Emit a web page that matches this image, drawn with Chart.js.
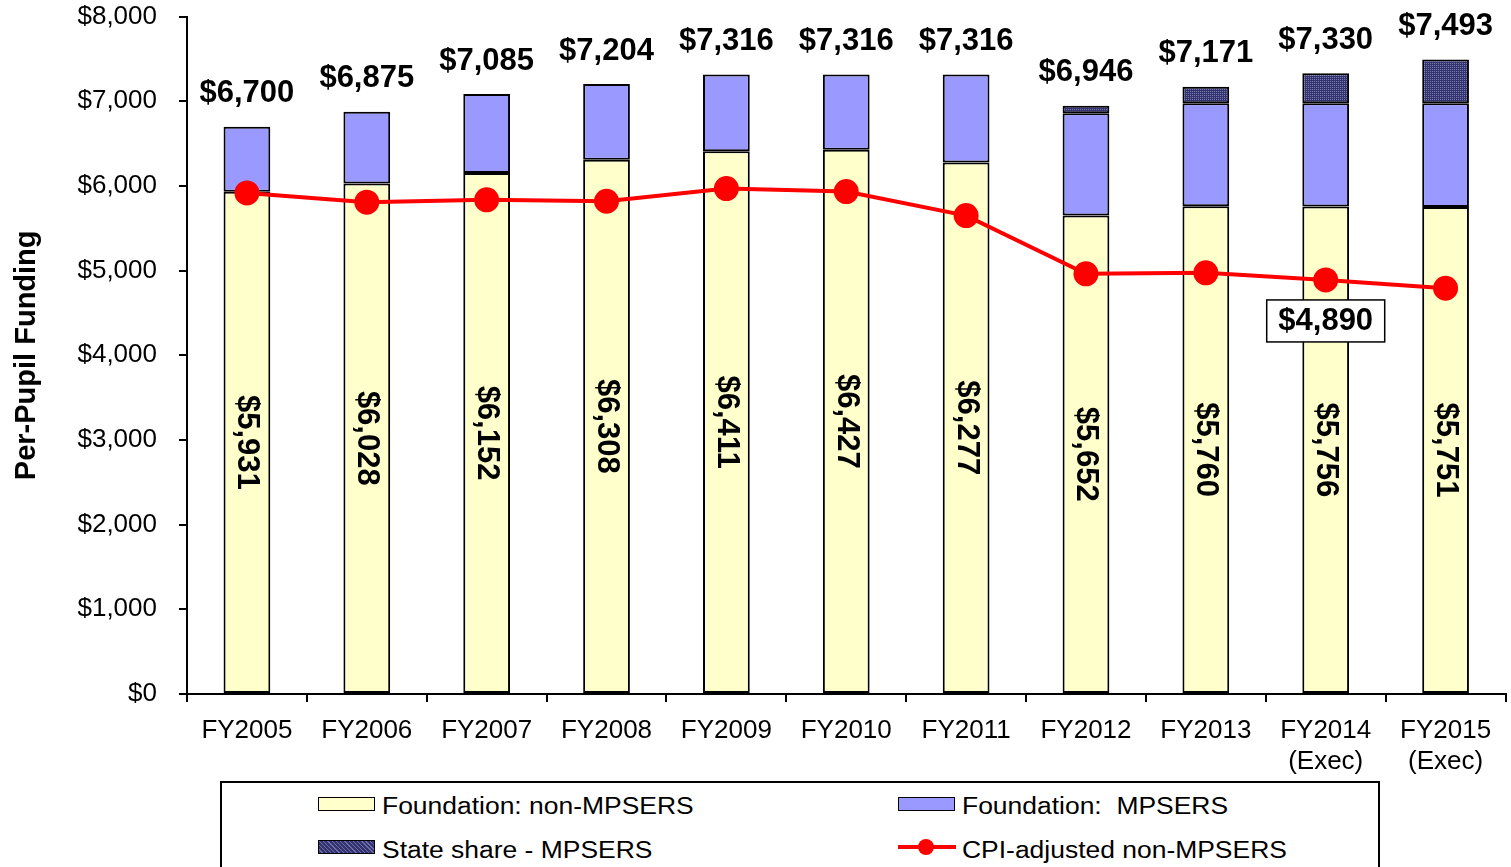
<!DOCTYPE html>
<html>
<head>
<meta charset="utf-8">
<script src="https://cdn.jsdelivr.net/npm/chart.js@4.4.1/dist/chart.umd.min.js"></script>
<style>
  body { margin: 0; background: #fff; font-family: 'Liberation Sans', Arial, sans-serif; }
  #contenedor { position: relative; width: 1511px; height: 867px; overflow: hidden; }
  #lienzo { position: absolute; left: 0; top: -21px; width: 1520px; height: 888px; }
  #leyenda { position: absolute; left: 220px; top: 781px; width: 1156px; height: 84px;
             border: 2px solid #000; background: #fff; }
  .item { position: absolute; font-size: 23px; color: #000; line-height: 23px; white-space: nowrap;
          transform: scaleX(1.15); transform-origin: left center; }
  .caja { position: absolute; width: 55px; height: 12px; border: 1.5px solid #000; }
</style>
</head>
<body>
<div id="contenedor">
  <div id="lienzo"><canvas id="grafica"></canvas></div>
  <div id="leyenda">
    <div class="caja" style="left:96px; top:14px; background:#FFFFCC;"></div>
    <div class="item" style="left:160px; top:12px;">Foundation: non-MPSERS</div>
    <div class="caja" style="left:676px; top:14px; background:#9999FF;"></div>
    <div class="item" style="left:740px; top:12px;">Foundation:&nbsp; MPSERS</div>
    <div class="caja" id="cajaEstatal" style="left:96px; top:57px;"></div>
    <div class="item" style="left:160px; top:56px;">State share - MPSERS</div>
    <div style="position:absolute; left:676px; top:62px; width:58px; height:4px; background:#FF0000;"></div>
    <div style="position:absolute; left:696px; top:56px; width:16px; height:16px; border-radius:50%; background:#FF0000;"></div>
    <div class="item" style="left:740px; top:56px;">CPI-adjusted non-MPSERS</div>
  </div>
</div>
<script>
// Datos
const categorias = [['FY2005'], ['FY2006'], ['FY2007'], ['FY2008'], ['FY2009'], ['FY2010'],
  ['FY2011'], ['FY2012'], ['FY2013'], ['FY2014', '(Exec)'], ['FY2015', '(Exec)']];
const noMpsers = [5931, 6028, 6152, 6308, 6411, 6427, 6277, 5652, 5760, 5756, 5751];
const mpsers = [769, 847, 933, 896, 905, 889, 1039, 1206, 1216, 1220, 1225];
const estatalMpsers = [null, null, null, null, null, null, null, 88, 195, 354, 517];
const totales = [6700, 6875, 7085, 7204, 7316, 7316, 7316, 6946, 7171, 7330, 7493];
const cpiAjustado = [5918, 5808, 5836, 5819, 5969, 5934, 5650, 4962, 4974, 4890, 4792];
const ticksY = [0, 1000, 2000, 3000, 4000, 5000, 6000, 7000, 8000];
const etiquetaCpi = 9; // indice del punto con recuadro ($4,890)

const fuente = "'Liberation Sans', Arial, sans-serif";

function dinero(n) {
  return '$' + n.toLocaleString('en-US');
}

// trama oscura para "State share"
function crearTrama() {
  const c = document.createElement('canvas');
  c.width = 4; c.height = 4;
  const g = c.getContext('2d');
  g.fillStyle = '#333370';
  g.fillRect(0, 0, 4, 4);
  g.fillStyle = '#7a7ab0';
  g.fillRect(0, 0, 1, 1);
  g.fillRect(2, 2, 1, 1);
  g.fillRect(2, 0, 1, 1);
  g.fillRect(0, 2, 1, 1);
  return g.createPattern(c, 'repeat');
}
const trama = crearTrama();
document.getElementById('cajaEstatal').style.background =
  'repeating-linear-gradient(45deg, #333370 0 2px, #6c6ca8 2px 3px)';

// etiquetas de valores
const etiquetas = {
  id: 'etiquetas',
  afterDatasetsDraw(chart) {
    const ctx = chart.ctx;
    const y = chart.scales.y;
    const barras = chart.getDatasetMeta(0).data;
    ctx.save();
    ctx.fillStyle = '#000';
    ctx.textAlign = 'center';
    ctx.textBaseline = 'middle';
    ctx.font = 'bold 31px ' + fuente;
    barras.forEach((bar, i) => {
      // total arriba de la barra
      ctx.fillText(dinero(totales[i]), bar.x, y.getPixelForValue(totales[i]) - 33);
      // valor rotado dentro de la parte amarilla
      const medio = (bar.y + bar.base) / 2;
      ctx.save();
      ctx.translate(bar.x, medio);
      ctx.rotate(Math.PI / 2);
      ctx.fillText(dinero(noMpsers[i]), 0, 0);
      ctx.restore();
    });
    // recuadro del punto CPI
    const punto = chart.getDatasetMeta(3).data[etiquetaCpi];
    const cx = punto.x;
    const cy = punto.y + 41;
    ctx.fillStyle = '#fff';
    ctx.fillRect(cx - 59, cy - 21, 118, 42);
    ctx.strokeStyle = '#000';
    ctx.lineWidth = 1.5;
    ctx.strokeRect(cx - 59, cy - 21, 118, 42);
    ctx.fillStyle = '#000';
    ctx.fillText(dinero(cpiAjustado[etiquetaCpi]), cx, cy + 1);
    ctx.restore();
  }
};

new Chart(document.getElementById('grafica'), {
  type: 'bar',
  data: {
    labels: categorias,
    datasets: [
      {
        label: 'Foundation: non-MPSERS',
        data: noMpsers,
        backgroundColor: '#FFFFCC',
        borderColor: '#000',
        borderWidth: 2,
        borderSkipped: false,
        stack: 'barras',
        order: 2
      },
      {
        label: 'Foundation:  MPSERS',
        data: mpsers,
        backgroundColor: '#9999FF',
        borderColor: '#000',
        borderWidth: 2,
        borderSkipped: false,
        stack: 'barras',
        order: 2
      },
      {
        label: 'State share - MPSERS',
        data: estatalMpsers,
        backgroundColor: trama,
        borderColor: '#000',
        borderWidth: 2,
        borderSkipped: false,
        stack: 'barras',
        order: 2
      },
      {
        type: 'line',
        label: 'CPI-adjusted non-MPSERS',
        data: cpiAjustado,
        borderColor: '#FF0000',
        backgroundColor: '#FF0000',
        borderWidth: 4,
        pointRadius: 10.5,
        pointHoverRadius: 10.5,
        stack: 'linea',
        order: 1
      }
    ]
  },
  options: {
    responsive: true,
    maintainAspectRatio: false,
    animation: false,
    layout: { padding: { top: 0, right: 0, left: 0, bottom: 0 } },
    datasets: { bar: { categoryPercentage: 1, barPercentage: 0.39 } },
    plugins: {
      legend: { display: false },
      tooltip: { enabled: false }
    },
    scales: {
      x: {
        stacked: true,
        grid: { display: true, drawOnChartArea: false, tickLength: 8, color: '#000', lineWidth: 2 },
        border: { color: '#000', width: 2 },
        ticks: { color: '#000', font: { family: fuente, size: 26 }, padding: 13, maxRotation: 0 },
        afterFit(scale) { scale.height = 173; }
      },
      y: {
        stacked: true,
        min: 0,
        max: 8000,
        afterBuildTicks(scale) { scale.ticks = ticksY.map(v => ({ value: v })); },
        grid: { display: true, drawOnChartArea: false, tickLength: 8, color: '#000', lineWidth: 2 },
        border: { color: '#000', width: 2 },
        ticks: {
          color: '#000',
          font: { family: fuente, size: 26 },
          padding: 22,
          callback: v => dinero(v)
        },
        title: {
          display: true,
          text: 'Per-Pupil Funding',
          color: '#000',
          font: { family: fuente, size: 29, weight: 'bold' },
          padding: { top: 10, bottom: 0 }
        },
        afterFit(scale) { scale.width = 187; }
      }
    }
  },
  plugins: [etiquetas]
});
</script>
</body>
</html>
